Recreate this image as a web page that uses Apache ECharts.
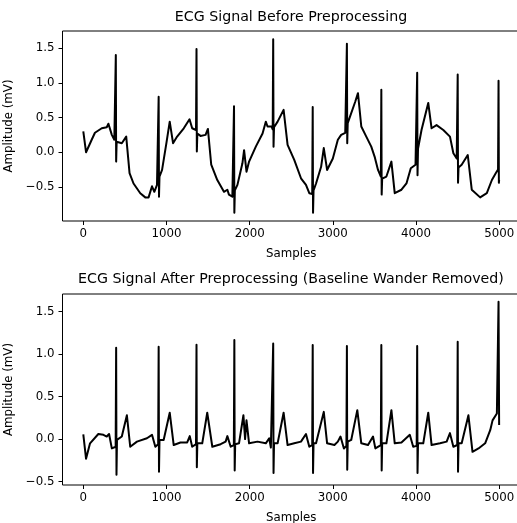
<!DOCTYPE html>
<html>
<head>
<meta charset="utf-8">
<title>ECG</title>
<script src="https://cdn.jsdelivr.net/npm/echarts@6.0.0/dist/echarts.min.js"></script>
<style>
  html, body { margin: 0; padding: 0; background: #fff; }
  .chart { width: 517px; height: 523px; }
</style>
</head>
<body>
<div class="chart"></div>
<script>
// raw signal (sample index / mV)
var beforeSamples = [0, 33, 101, 140, 222, 282, 302, 343, 373, 385, 391, 395, 401, 423, 463, 516, 556, 604, 685, 745, 785, 826, 854, 886, 900, 906, 910, 916, 947, 999, 1039, 1079, 1128, 1208, 1277, 1309, 1355, 1361, 1365, 1371, 1409, 1470, 1498, 1538, 1611, 1691, 1732, 1751, 1792, 1806, 1812, 1816, 1822, 1853, 1913, 1933, 1962, 1993, 2074, 2155, 2194, 2215, 2263, 2277, 2283, 2287, 2293, 2336, 2408, 2456, 2536, 2617, 2677, 2717, 2752, 2758, 2762, 2768, 2798, 2859, 2891, 2931, 3000, 3060, 3100, 3149, 3163, 3169, 3173, 3179, 3200, 3270, 3302, 3342, 3402, 3462, 3502, 3543, 3577, 3583, 3587, 3593, 3644, 3704, 3744, 3825, 3885, 3937, 3994, 4008, 4014, 4018, 4024, 4066, 4147, 4187, 4247, 4328, 4408, 4449, 4489, 4495, 4501, 4505, 4511, 4549, 4622, 4670, 4771, 4851, 4912, 4960, 4986, 4992, 4996, 4999];
var beforeAmp = [0.30, 0.00, 0.18, 0.28, 0.345, 0.36, 0.41, 0.25, 0.18, 0.20, 1.40, -0.135, 0.15, 0.13, 0.13, 0.225, -0.30, -0.45, -0.59, -0.65, -0.65, -0.49, -0.57, -0.47, -0.47, 0.80, -0.64, -0.35, -0.255, 0.13, 0.44, 0.13, 0.225, 0.345, 0.475, 0.345, 0.32, 1.486, 0.01, 0.27, 0.235, 0.25, 0.335, -0.18, -0.40, -0.57, -0.54, -0.61, -0.64, -0.64, 0.66, -0.87, -0.55, -0.47, -0.16, 0.03, -0.28, -0.135, 0.08, 0.27, 0.44, 0.37, 0.37, 0.33, 1.626, 0.08, 0.36, 0.44, 0.61, 0.105, -0.11, -0.375, -0.47, -0.59, -0.60, 0.65, -0.87, -0.55, -0.45, -0.21, 0.06, -0.255, -0.09, 0.18, 0.25, 0.28, 0.28, 1.56, 0.13, 0.42, 0.49, 0.73, 0.85, 0.37, 0.225, 0.08, -0.063, -0.255, -0.35, 0.90, -0.61, -0.38, -0.35, -0.135, -0.59, -0.54, -0.45, -0.23, -0.18, -0.16, 1.145, -0.33, 0.05, 0.32, 0.71, 0.345, 0.39, 0.32, 0.225, -0.015, -0.09, -0.09, 1.12, -0.44, -0.22, -0.18, -0.04, -0.54, -0.65, -0.59, -0.40, -0.30, -0.25, 1.03, -0.44, -0.40];

// filtered signal (baseline wander removed)
var afterSamples = [0, 33, 81, 181, 242, 282, 310, 343, 389, 395, 399, 405, 463, 524, 564, 645, 765, 826, 866, 900, 906, 910, 916, 966, 1039, 1087, 1168, 1249, 1280, 1309, 1355, 1361, 1365, 1371, 1430, 1490, 1551, 1651, 1711, 1732, 1772, 1810, 1816, 1820, 1826, 1872, 1925, 1945, 1962, 1993, 2094, 2194, 2235, 2255, 2277, 2283, 2287, 2293, 2336, 2408, 2456, 2536, 2617, 2677, 2717, 2752, 2758, 2762, 2768, 2798, 2891, 2931, 3019, 3060, 3092, 3133, 3163, 3169, 3173, 3179, 3221, 3294, 3342, 3423, 3483, 3511, 3577, 3583, 3587, 3593, 3644, 3704, 3744, 3825, 3925, 3966, 4008, 4014, 4018, 4024, 4087, 4147, 4187, 4288, 4368, 4408, 4449, 4495, 4501, 4505, 4511, 4549, 4630, 4679, 4751, 4831, 4892, 4920, 4972, 4986, 4992, 4999];
var afterAmp = [0.055, -0.23, -0.05, 0.06, 0.05, 0.03, 0.06, -0.11, -0.09, 1.075, -0.42, -0.01, 0.03, 0.28, -0.09, -0.03, 0.01, 0.05, -0.09, -0.06, 1.085, -0.385, -0.01, -0.01, 0.31, -0.07, -0.04, -0.04, 0.035, -0.09, -0.06, 1.11, -0.33, -0.05, -0.05, 0.31, -0.09, -0.06, -0.03, 0.035, -0.09, -0.07, 1.165, -0.37, -0.06, -0.05, 0.28, 0.0, 0.22, -0.05, -0.03, -0.05, 0.01, -0.10, -0.08, 1.125, -0.40, -0.05, -0.05, 0.31, -0.07, -0.05, -0.03, 0.06, -0.09, -0.07, 1.105, -0.40, -0.05, -0.05, 0.32, -0.05, -0.07, -0.03, 0.03, -0.11, -0.08, 1.095, -0.36, -0.03, -0.01, 0.34, -0.05, -0.07, 0.03, -0.11, -0.07, 1.105, -0.37, -0.05, -0.05, 0.34, -0.05, -0.04, 0.05, -0.09, -0.08, 1.095, -0.40, -0.05, -0.05, 0.31, -0.07, -0.05, -0.03, 0.07, -0.09, -0.07, 1.145, -0.385, -0.05, -0.05, 0.28, -0.15, -0.11, -0.05, 0.105, 0.22, 0.30, 0.32, 1.615, 0.165];

var xTicks = [0, 1000, 2000, 3000, 4000, 5000];
var yTicksBefore = [-0.5, 0, 0.5, 1.0, 1.5];
var yTicksAfter = [-0.5, 0, 0.5, 1.0, 1.5];

(function () {
    function pairs(xs, ys) {
        var out = [];
        for (var i = 0; i < xs.length; i++) {
            out.push([xs[i], ys[i]]);
        }
        return out;
    }
    function fmtY(v) {
        var s = Math.abs(v).toFixed(1);
        return v < 0 ? "\u2212" + s : s;
    }

    var font = "DejaVu Sans";
    var tickFont = 11.8;

    function xAxis(idx) {
        return {
            type: "value",
            gridIndex: idx,
            min: -250,
            max: 5250,
            name: "Samples",
            nameLocation: "middle",
            nameGap: 27,
            nameTextStyle: { fontFamily: font, fontSize: tickFont, color: "#000" },
            splitLine: { show: false },
            axisLine: { show: false, onZero: false },
            axisTick: { show: true, length: 4, customValues: xTicks, lineStyle: { color: "#000", width: 1 } },
            axisLabel: {
                customValues: xTicks, margin: 7, fontFamily: font, fontSize: tickFont, color: "#000",
                formatter: function (v) { return String(v); }
            }
        };
    }
    function yAxis(idx, min, max, ticks) {
        return {
            type: "value",
            gridIndex: idx,
            min: min,
            max: max,
            name: "Amplitude (mV)",
            nameLocation: "middle",
            nameGap: 44,
            nameTextStyle: { fontFamily: font, fontSize: tickFont, color: "#000" },
            splitLine: { show: false },
            axisLine: { show: false, onZero: false },
            axisTick: { show: true, length: 4, customValues: ticks, lineStyle: { color: "#000", width: 1 } },
            axisLabel: {
                customValues: ticks, margin: 8, fontFamily: font, fontSize: tickFont, color: "#000",
                formatter: fmtY
            }
        };
    }

    var myChart = echarts.init(document.querySelector(".chart"));
    var option = {
        animation: false,
        backgroundColor: "#fff",
        title: [
            {
                text: "ECG Signal Before Preprocessing",
                left: 291, top: 10, textAlign: "center", padding: 0,
                textStyle: { fontFamily: font, fontSize: 14.2, fontWeight: "normal", color: "#000" }
            },
            {
                text: "ECG Signal After Preprocessing (Baseline Wander Removed)",
                left: 291, top: 272, textAlign: "center", padding: 0,
                textStyle: { fontFamily: font, fontSize: 14.2, fontWeight: "normal", color: "#000" }
            }
        ],
        grid: [
            { left: 62.5, right: -3, top: 31, height: 190, show: true, borderColor: "#000", borderWidth: 1,
              containLabel: false, outerBoundsMode: "none" },
            { left: 62.5, right: -3, top: 294, height: 191, show: true, borderColor: "#000", borderWidth: 1,
              containLabel: false, outerBoundsMode: "none" }
        ],
        xAxis: [xAxis(0), xAxis(1)],
        yAxis: [
            yAxis(0, -0.99, 1.745, yTicksBefore),
            yAxis(1, -0.54, 1.706, yTicksAfter)
        ],
        series: [
            {
                type: "line",
                xAxisIndex: 0, yAxisIndex: 0,
                data: pairs(beforeSamples, beforeAmp),
                showSymbol: false,
                lineStyle: { color: "#000", width: 2, join: "round" }
            },
            {
                type: "line",
                xAxisIndex: 1, yAxisIndex: 1,
                data: pairs(afterSamples, afterAmp),
                showSymbol: false,
                lineStyle: { color: "#000", width: 2, join: "round" }
            }
        ]
    };

    myChart.setOption(option);
    window.addEventListener("resize", function () {
        myChart.resize();
    });
})();
</script>
</body>
</html>
